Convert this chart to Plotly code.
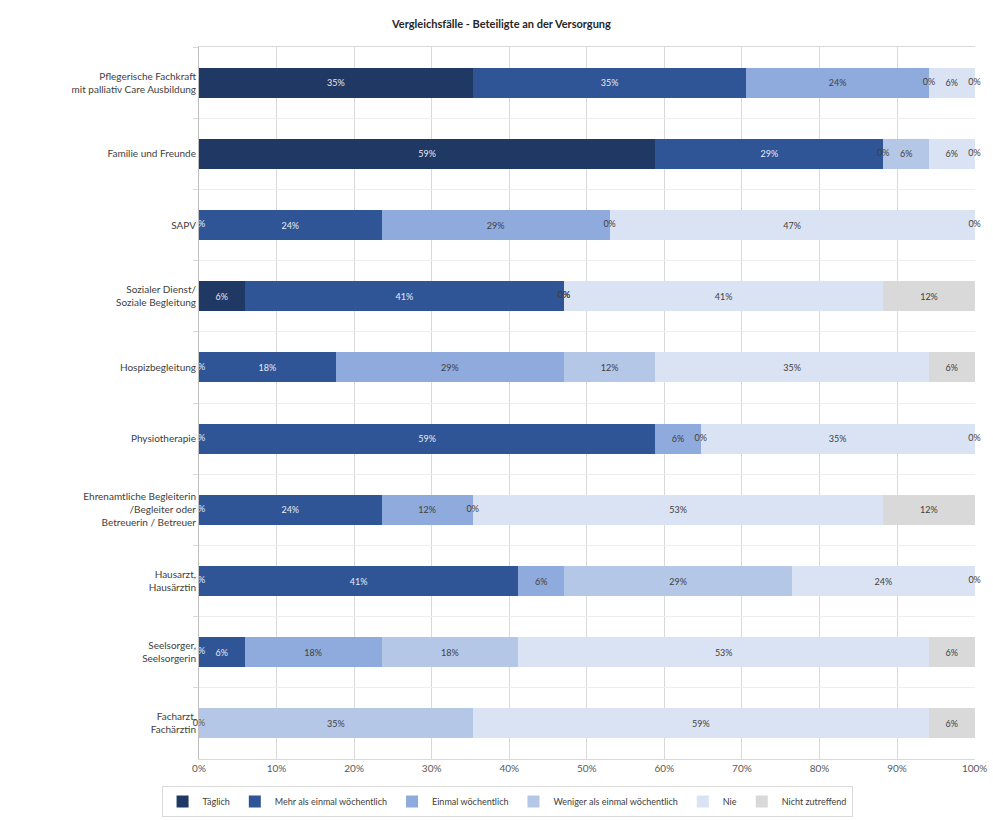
import plotly.graph_objects as go

# Kategorien von oben nach unten
categories = [
    "Pflegerische Fachkraft<br>mit palliativ Care Ausbildung",
    "Familie und Freunde",
    "SAPV",
    "Sozialer Dienst/<br>Soziale Begleitung",
    "Hospizbegleitung",
    "Physiotherapie",
    "Ehrenamtliche Begleiterin<br>/Begleiter oder<br>Betreuerin / Betreuer",
    "Hausarzt,<br>Hausärztin",
    "Seelsorger,<br>Seelsorgerin",
    "Facharzt,<br>Fachärztin",
]

# Anteile in Prozent je Antwortkategorie
taeglich = [35.29, 58.82, 0, 5.88, 0, 0, 0, 0, 0, 0]
mehr_als_einmal = [35.29, 29.41, 23.53, 41.18, 17.65, 58.82, 23.53, 41.18, 5.88, 0]
einmal = [23.53, 0, 29.41, 0, 29.41, 5.88, 11.76, 5.88, 17.65, 0]
weniger = [0, 5.88, 0, 0, 11.76, 0, 0, 29.41, 17.65, 35.29]
nie = [5.88, 5.88, 47.06, 41.18, 35.29, 35.29, 52.94, 23.53, 52.94, 58.82]
nicht_zutreffend = [0, 0, 0, 11.76, 5.88, 0, 11.76, 0, 5.88, 5.88]

x_ticks = [0, 10, 20, 30, 40, 50, 60, 70, 80, 90, 100]

series = [
    ("Täglich", taeglich, "#203864", "#e6ebf5"),
    ("Mehr als einmal wöchentlich", mehr_als_einmal, "#2f5597", "#e6ebf5"),
    ("Einmal wöchentlich", einmal, "#8faadc", "#404040"),
    ("Weniger als einmal wöchentlich", weniger, "#b4c7e7", "#404040"),
    ("Nie", nie, "#dae3f3", "#404040"),
    ("Nicht zutreffend", nicht_zutreffend, "#d9d9d9", "#404040"),
]

FONT = "Lato, 'Open Sans', sans-serif"

fig = go.Figure()

base = [0.0] * len(categories)
zero_labels = []
for name, vals, color, txt_color in series:
    fig.add_trace(
        go.Bar(
            y=categories,
            x=vals,
            name=name,
            orientation="h",
            marker=dict(color=color, line=dict(width=0)),
            texttemplate=["%{x:.0f}%" if v > 0 else "" for v in vals],
            textposition="inside",
            insidetextanchor="middle",
            textangle=0,
            textfont=dict(size=9, color=txt_color, family=FONT),
            hovertemplate="%{y}<br>" + name + ": %{x:.0f}%<extra></extra>",
        )
    )
    # Excel zeigt auch 0%-Beschriftungen an der Segmentgrenze
    zx = [b for b, v in zip(base, vals) if v == 0]
    zy = [c for c, v in zip(categories, vals) if v == 0]
    if zx:
        zero_labels.append((zx, zy, txt_color))
    base = [b + v for b, v in zip(base, vals)]

for zx, zy, txt_color in zero_labels:
    fig.add_trace(
        go.Scatter(
            x=zx,
            y=zy,
            mode="text",
            text=["0%"] * len(zx),
            textposition="middle center",
            textfont=dict(size=9, color=txt_color, family=FONT),
            showlegend=False,
            hoverinfo="skip",
            cliponaxis=False,
        )
    )

fig.update_xaxes(
    range=[0, 100.05],
    tickvals=x_ticks,
    ticktext=[f"{t}%" for t in x_ticks],
    showgrid=True,
    gridcolor="#d9d9d9",
    gridwidth=1,
    showline=True,
    linecolor="#d9d9d9",
    mirror=True,
    zeroline=False,
    tickfont=dict(size=10, color="#595959", family=FONT),
    ticks="",
)
fig.update_yaxes(
    autorange="reversed",
    tickson="boundaries",
    showgrid=True,
    gridcolor="#eeeeee",
    ticks="outside",
    ticklen=5,
    tickcolor="#d9d9d9",
    showline=True,
    linecolor="#bfbfbf",
    tickfont=dict(size=10, color="#404040", family=FONT),
)

fig.update_layout(
    width=993,
    height=820,
    barmode="stack",
    bargap=0.58,
    plot_bgcolor="white",
    paper_bgcolor="white",
    margin=dict(l=199, r=18, t=47, b=61, autoexpand=False),
    title=dict(
        text="<b>Vergleichsfälle - Beteiligte an der Versorgung</b>",
        x=0.505,
        xref="container",
        y=0.97,
        yanchor="middle",
        font=dict(size=11, color="#262626", family=FONT),
    ),
    legend=dict(
        orientation="h",
        x=0.397,
        xanchor="center",
        y=-0.038,
        yanchor="top",
        bordercolor="#d9d9d9",
        borderwidth=1,
        font=dict(size=9, color="#404040", family=FONT),
        itemwidth=30,
        traceorder="normal",
    ),
    showlegend=True,
)

fig.write_html(
    "out.html",
    config={"displayModeBar": False},
    post_script="document.body.style.margin='0';",
)
